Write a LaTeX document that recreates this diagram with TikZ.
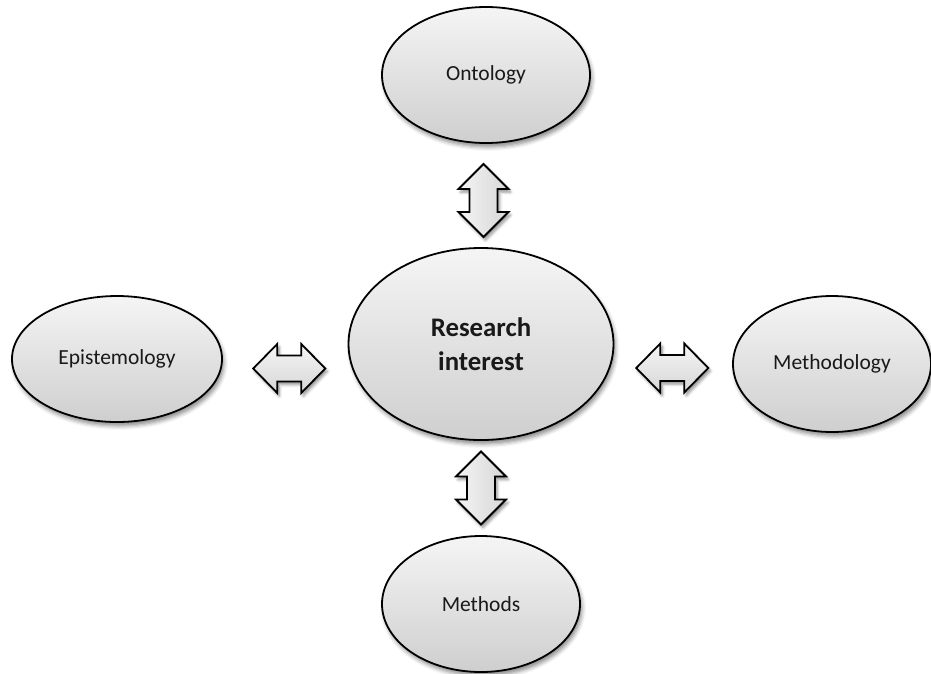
\documentclass[tikz,border=0pt]{standalone}
\usepackage{fontspec}
\setmainfont{Carlito}
\usetikzlibrary{shapes.geometric,calc,shadows.blur}
\tikzset{
  bubble/.style={ellipse, draw=black, line width=1.8pt, inner sep=0pt,
    top color=gray!8, bottom color=gray!38,
    blur shadow={shadow xshift=2pt, shadow yshift=-4pt, shadow blur radius=4pt, shadow opacity=45},
    font=\fontsize{21.5pt}{25pt}\selectfont, text=black!90},
  arrowbody/.style={draw=black, line width=1.8pt, line join=miter,
    blur shadow={shadow xshift=2pt, shadow yshift=-3pt, shadow blur radius=3pt, shadow opacity=45}},
  pics/vdbl/.style={code={
    \draw[arrowbody, left color=gray!8, right color=gray!32]
      (0,-36.5) -- (25,-11.5) -- (14,-11.5) -- (14,11.5) -- (25,11.5) -- (0,36.5)
      -- (-25,11.5) -- (-14,11.5) -- (-14,-11.5) -- (-25,-11.5) -- cycle;
  }},
  pics/hdbl/.style={code={
    \draw[arrowbody, top color=gray!8, bottom color=gray!32]
      (-36,0) -- (-12,-24.5) -- (-12,-13) -- (12,-13) -- (12,-24.5) -- (36,0)
      -- (12,24.5) -- (12,13) -- (-12,13) -- (-12,24.5) -- cycle;
  }}
}
\begin{document}
\begin{tikzpicture}[x=1pt,y=-1pt]
\useasboundingbox (0,0) rectangle (931,673);
\node[bubble, minimum width=208pt, minimum height=136pt] (ont) at (486,75) {Ontology};
\node[bubble, minimum width=265pt, minimum height=192pt, font=\fontsize{26.8pt}{34pt}\selectfont\bfseries, align=center] (ri) at (481,344) {Research\\interest};
\node[bubble, minimum width=210pt, minimum height=126pt] (epi) at (117,359) {Epistemology};
\node[bubble, minimum width=198pt, minimum height=136pt] (meth) at (832,364) {Methodology};
\node[bubble, minimum width=198pt, minimum height=136pt] (mds) at (481,604) {Methods};
\coordinate (aT) at ($(ont.south)!0.5!(ri.north)$);
\coordinate (aB) at ($(ri.south)!0.5!(mds.north)$);
\coordinate (aL) at ($(epi.east)!0.5!(ri.west)$);
\coordinate (aR) at ($(ri.east)!0.5!(meth.west)$);
\pic at ($(aT)+(0,5)$) {vdbl};
\pic at (aB) {vdbl};
\pic at ($(aL)+(4,17)$) {hdbl};
\pic at ($(aR)+(-1,14)$) {hdbl};
\end{tikzpicture}
\end{document}
